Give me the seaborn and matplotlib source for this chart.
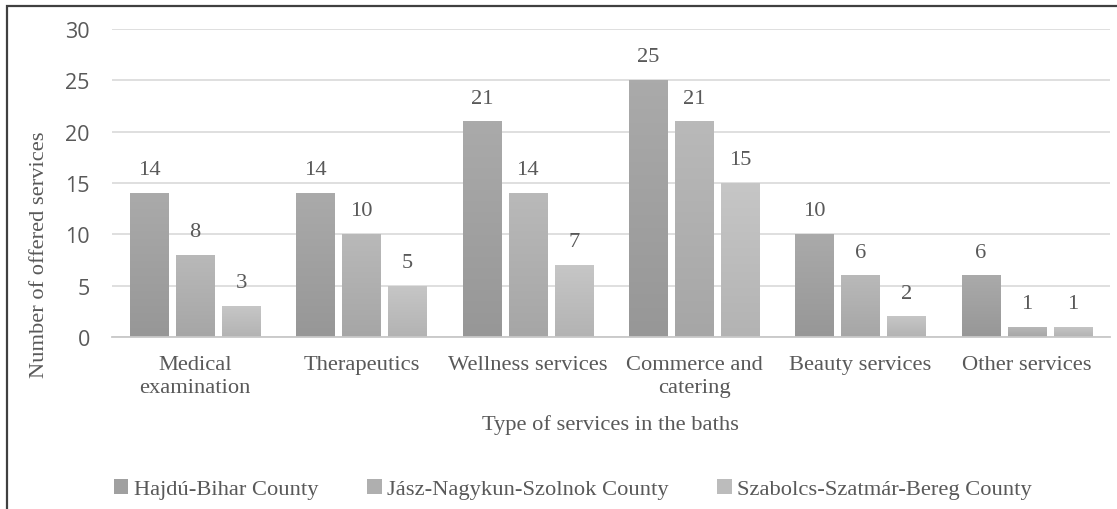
import numpy as np
import pandas as pd
import matplotlib
matplotlib.use("Agg")
import matplotlib.pyplot as plt
import seaborn as sns
from matplotlib.patches import Rectangle, Patch

categories = ["Medical\nexamination", "Therapeutics", "Wellness services",
              "Commerce and\ncatering", "Beauty services", "Other services"]
counties = ["Hajdú-Bihar County", "Jász-Nagykun-Szolnok County",
            "Szabolcs-Szatmár-Bereg County"]
hajdu_bihar = [14, 14, 21, 25, 10, 6]
jasz_nagykun = [8, 10, 14, 21, 6, 1]
szabolcs = [3, 5, 7, 15, 2, 1]
y_ticks = [0, 5, 10, 15, 20, 25, 30]

df = pd.DataFrame({
    "service": categories * 3,
    "county": [c for c in counties for _ in categories],
    "count": hajdu_bihar + jasz_nagykun + szabolcs,
})

# top / bottom shades of the gradient fill per county
shades = [("#aaaaaa", "#979797"), ("#b9b9b9", "#a6a6a6"), ("#c6c6c6", "#b3b3b3")]
mid = ["#a0a0a0", "#afafaf", "#bcbcbc"]

sns.set_theme(style="white")
serif = ["Liberation Serif", "DejaVu Serif"]
txt = "#595959"
fs = 16.2

fig = plt.figure(figsize=(11.17, 5.10), dpi=100)
ax = fig.add_axes([112 / 1117, 1 - 338 / 510, 998 / 1117, 308 / 510])

sns.barplot(data=df, x="service", y="count", hue="county", hue_order=counties,
            palette=mid, width=0.83, gap=0.17, legend=False, ax=ax,
            zorder=2, linewidth=0)

ax.set_ylim(0, 30)
ax.set_xlim(-0.5, len(categories) - 0.5)
ax.set_autoscale_on(False)

for cont, (top, bot) in zip(ax.containers, shades):
    cmap = matplotlib.colors.LinearSegmentedColormap.from_list("g", [bot, top])
    for bar in cont:
        x0, w, h = bar.get_x(), bar.get_width(), bar.get_height()
        grad = np.linspace(1, 0, 64).reshape(-1, 1)
        im = ax.imshow(grad, cmap=cmap, extent=[x0, x0 + w, 0, h],
                       aspect="auto", zorder=2.5, interpolation="bilinear")
        im.set_clip_path(bar)
    ax.bar_label(cont, labels=[f"{v:g}" for v in cont.datavalues], padding=10,
                 fontsize=fs, color=txt, family=serif)

ax.set_yticks(y_ticks)
ax.grid(axis="y", color="#d9d9d9", linewidth=1.2, zorder=0)
sns.despine(ax=ax, left=True, top=True, right=True)
ax.spines["bottom"].set_color("#c8c8c8")
ax.spines["bottom"].set_linewidth(1.3)
ax.spines["bottom"].set_zorder(3)
ax.tick_params(axis="both", length=0, colors=txt)
ax.tick_params(axis="y", labelsize=15.5, pad=16)
ax.tick_params(axis="x", pad=13)
for lab in ax.get_yticklabels():
    lab.set_family(["Open Sans", "DejaVu Sans"])
for lab in ax.get_xticklabels():
    lab.set_family(serif)
    lab.set_fontsize(fs)
    lab.set_linespacing(1.25)

ax.set_xlabel("Type of services in the baths", fontsize=fs, color=txt,
              family=serif)
ax.set_ylabel("Number of offered services", fontsize=fs, color=txt,
              family=serif)
ax.yaxis.set_label_coords(49 / 1117, 0.5, transform=fig.transFigure)
ax.xaxis.set_label_coords(611 / 1117, 1 - 415 / 510, transform=fig.transFigure)

handles = [Patch(facecolor=c, edgecolor="none") for c in mid]
fig.legend(handles, counties, loc="center", bbox_to_anchor=(573 / 1117, 1 - 490 / 510),
           ncol=3, frameon=False, handlelength=0.65, handleheight=0.65,
           handletextpad=0.25, columnspacing=2.15,
           prop={"family": serif, "size": fs}, labelcolor=txt)

# chart frame
fig.patches.append(Rectangle((7 / 1117, -0.2), 1.5, 1.2 - 7 / 510,
                             transform=fig.transFigure, fill=False,
                             edgecolor="#404040", linewidth=1.6, zorder=10))

fig.savefig("out.png", dpi=100)
